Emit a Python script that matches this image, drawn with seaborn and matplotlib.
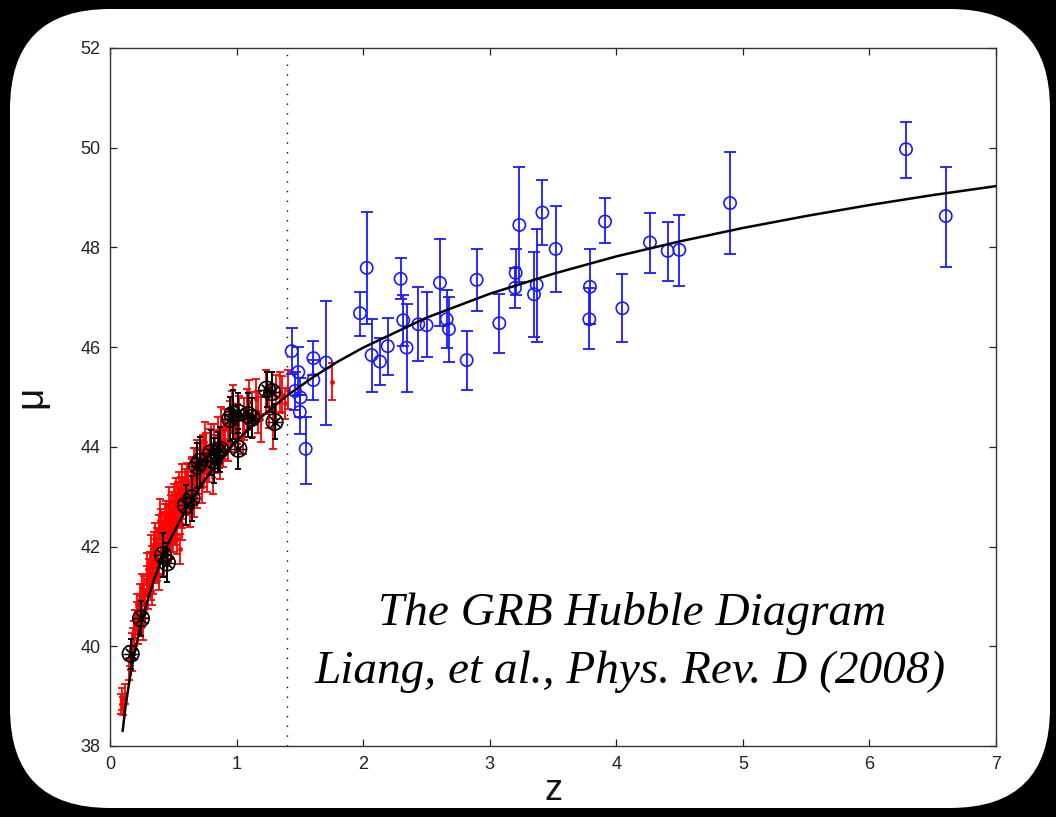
import matplotlib
matplotlib.use("Agg")
import matplotlib.pyplot as plt
import seaborn as sns
from matplotlib.patches import FancyBboxPatch

# ---------------- data ----------------
# model curve
curve_z = [0.10, 0.12, 0.15, 0.175, 0.20, 0.25, 0.30, 0.35, 0.40, 0.45, 0.50, 0.60, 0.70,
           0.80, 0.90, 1.00, 1.20, 1.40, 1.60, 1.80, 2.00, 2.50, 3.00, 3.50, 4.00,
           4.50, 5.00, 5.50, 6.00, 6.50, 7.00]
curve_mu = [38.30, 38.74, 39.25, 39.62, 39.95, 40.49, 40.95, 41.36, 41.68, 42.01, 42.26,
            42.75, 43.16, 43.52, 43.83, 44.12, 44.61, 45.03, 45.39, 45.71, 45.99,
            46.59, 47.07, 47.47, 47.82, 48.12, 48.39, 48.63, 48.85, 49.05, 49.23]

# supernovae (red)
sn_z = [0.085, 0.095, 0.105, 0.115, 0.15, 0.16, 0.17, 0.175, 0.19, 0.20, 0.21, 0.22,
        0.23, 0.24, 0.25, 0.26, 0.27, 0.28, 0.29, 0.30, 0.31, 0.32, 0.33, 0.34, 0.345,
        0.35, 0.36, 0.37, 0.38, 0.39, 0.395, 0.40, 0.405, 0.41, 0.42, 0.43, 0.44, 0.44,
        0.45, 0.46, 0.47, 0.48, 0.49, 0.50, 0.51, 0.52, 0.52, 0.53, 0.54, 0.55, 0.55,
        0.56, 0.57, 0.57, 0.58, 0.59, 0.60, 0.61, 0.62, 0.63, 0.64, 0.65, 0.66, 0.67,
        0.68, 0.69, 0.70, 0.72, 0.73, 0.74, 0.75, 0.76, 0.78, 0.80, 0.81, 0.83, 0.85,
        0.87, 0.88, 0.89, 0.91, 0.93, 0.95, 0.97, 0.99, 1.02, 1.05, 1.08, 1.12, 1.15,
        1.19, 1.23, 1.26, 1.29, 1.31, 1.34, 1.36, 1.38, 1.41, 1.75,
        0.18, 0.215, 0.235, 0.255, 0.275, 0.295, 0.315, 0.325, 0.335, 0.355, 0.365,
        0.375, 0.385, 0.415, 0.425, 0.435, 0.455, 0.465, 0.475, 0.485, 0.495, 0.505,
        0.515, 0.535, 0.545, 0.565, 0.585, 0.605, 0.625, 0.645, 0.665, 0.685, 0.71,
        0.735, 0.77, 0.79, 0.82, 0.86, 0.90, 0.94, 0.96, 1.00, 1.06, 1.10, 1.17]
sn_mu = [38.85, 38.95, 38.80, 39.05, 39.55, 39.80, 39.75, 40.05, 40.25, 40.45, 40.80, 40.30,
         40.55, 40.70, 40.95, 40.40, 41.10, 40.75, 41.30, 41.05, 41.45, 41.20, 41.70, 41.35, 42.00,
         41.85, 41.55, 42.05, 41.75, 41.40, 42.65, 42.20, 42.45, 41.95, 42.35, 42.10, 41.90, 42.60,
         42.50, 42.25, 42.60, 42.05, 42.75, 42.40, 42.85, 42.55, 43.05, 42.15, 42.95, 42.70, 41.95,
         43.05, 42.45, 43.30, 42.85, 43.20, 42.95, 43.35, 43.30, 42.70, 43.10, 43.45, 42.90, 43.25,
         43.60, 43.75, 43.40, 43.75, 43.20, 43.55, 44.10, 43.90, 43.65, 44.05, 43.40, 43.85, 44.20,
         43.70, 44.40, 44.00, 44.35, 44.10, 44.50, 44.85, 44.30, 44.60, 44.25, 44.75, 44.65, 44.95,
         44.55, 45.10, 44.80, 44.35, 45.00, 45.10, 45.05, 44.87, 45.15, 45.31,
         40.15, 40.60, 40.95, 41.15, 40.85, 41.55, 41.60, 41.90, 41.10, 42.15, 41.75,
         41.60, 42.30, 42.15, 41.70, 42.50, 42.00, 42.85, 42.35, 42.70, 42.20, 42.90,
         42.35, 42.75, 43.15, 42.70, 43.05, 43.15, 42.95, 43.40, 43.60, 43.10, 43.55,
         43.85, 43.45, 43.95, 44.05, 43.95, 44.15, 44.30, 44.70, 44.45, 44.55, 44.90, 44.70]
sn_err = [0.20, 0.22, 0.18, 0.20, 0.22, 0.20, 0.25, 0.22, 0.25, 0.28, 0.25, 0.25,
          0.30, 0.30, 0.30, 0.28, 0.30, 0.28, 0.32, 0.30, 0.30, 0.28, 0.32, 0.30, 0.30,
          0.30, 0.28, 0.32, 0.30, 0.28, 0.30, 0.32, 0.30, 0.30, 0.35, 0.30, 0.28, 0.32,
          0.35, 0.30, 0.32, 0.30, 0.35, 0.30, 0.35, 0.32, 0.33, 0.30, 0.35, 0.30, 0.30,
          0.35, 0.32, 0.35, 0.30, 0.35, 0.32, 0.33, 0.35, 0.30, 0.32, 0.35, 0.30, 0.35,
          0.38, 0.38, 0.35, 0.38, 0.32, 0.35, 0.40, 0.38, 0.35, 0.40, 0.35, 0.38, 0.40,
          0.35, 0.40, 0.40, 0.40, 0.38, 0.42, 0.40, 0.40, 0.42, 0.40, 0.42, 0.45, 0.42,
          0.45, 0.45, 0.42, 0.40, 0.45, 0.40, 0.38, 0.32, 0.40, 0.37,
          0.22, 0.28, 0.30, 0.30, 0.28, 0.32, 0.30, 0.33, 0.28, 0.32, 0.30,
          0.30, 0.33, 0.32, 0.30, 0.35, 0.30, 0.35, 0.32, 0.33, 0.30, 0.35,
          0.32, 0.33, 0.35, 0.32, 0.33, 0.35, 0.32, 0.35, 0.38, 0.33, 0.38,
          0.38, 0.35, 0.40, 0.40, 0.38, 0.40, 0.40, 0.42, 0.40, 0.42, 0.45, 0.42]

# low-z GRBs (black, calibrated)
low_z = [0.163, 0.245, 0.42, 0.45, 0.60, 0.645, 0.69, 0.71, 0.80, 0.82, 0.85, 0.87,
         0.95, 0.97, 1.014, 1.014, 1.09, 1.12, 1.24, 1.28, 1.30]
low_mu = [39.85, 40.56, 41.83, 41.68, 42.83, 42.97, 43.62, 43.70, 43.88, 43.72, 43.90, 43.94,
          44.56, 44.65, 44.68, 43.96, 44.64, 44.58, 45.15, 45.10, 44.50]
low_err = [0.30, 0.35, 0.45, 0.40, 0.40, 0.45, 0.45, 0.50, 0.45, 0.45, 0.40, 0.45,
           0.45, 0.50, 0.40, 0.40, 0.45, 0.40, 0.35, 0.40, 0.35]

# high-z GRBs (blue)
grb_z = [1.435, 1.488, 1.462, 1.505, 1.500, 1.546, 1.607, 1.607, 1.707, 1.975, 2.028, 2.067,
         2.133, 2.194, 2.296, 2.317, 2.343, 2.436, 2.501, 2.607, 2.660, 2.678, 2.818, 2.897,
         3.076, 3.205, 3.200, 3.234, 3.350, 3.371, 3.416, 3.521, 3.792, 3.787, 3.911, 4.048,
         4.266, 4.406, 4.498, 4.899, 6.289, 6.603]
grb_mu = [45.92, 45.50, 45.12, 44.99, 44.70, 43.96, 45.78, 45.34, 45.69, 46.68, 47.59, 45.84,
          45.71, 46.02, 47.37, 46.54, 45.99, 46.46, 46.44, 47.29, 46.56, 46.36, 45.74, 47.35,
          46.48, 47.49, 47.19, 48.45, 47.06, 47.25, 48.70, 47.97, 47.21, 46.56, 48.52, 46.78,
          48.10, 47.93, 47.95, 48.89, 49.97, 48.63]
grb_err_lo = [0.46, 0.45, 0.38, 0.40, 0.45, 0.70, 0.34, 0.40, 1.25, 0.45, 1.13, 0.73,
              0.47, 0.58, 0.41, 0.51, 0.88, 0.74, 0.63, 0.87, 0.58, 0.66, 0.59, 0.62,
              0.60, 0.44, 0.41, 1.15, 0.85, 1.15, 0.65, 0.86, 0.75, 0.60, 0.44, 0.68,
              0.62, 0.60, 0.72, 1.03, 0.58, 1.02]
grb_err_hi = [0.46, 0.50, 0.38, 0.40, 0.35, 0.64, 0.34, 0.40, 1.23, 0.43, 1.13, 0.72,
              0.47, 0.57, 0.42, 0.51, 0.88, 0.74, 0.67, 0.87, 0.59, 0.65, 0.58, 0.61,
              0.59, 0.47, 0.39, 1.16, 0.85, 1.11, 0.65, 0.87, 0.75, 0.62, 0.47, 0.68,
              0.60, 0.59, 0.71, 1.02, 0.55, 0.98]

x_ticks = [0, 1, 2, 3, 4, 5, 6, 7]
y_ticks = [38, 40, 42, 44, 46, 48, 50, 52]
title_lines = ["The GRB Hubble Diagram", "Liang, et al., Phys. Rev. D (2008)"]
z_split = 1.4

# ---------------- figure ----------------
sns.set_theme(style="ticks")
plt.rcParams['font.family'] = ['Liberation Sans', 'DejaVu Sans']

fig = plt.figure(figsize=(10.56, 8.17), dpi=100, facecolor='black')

bg = fig.add_axes([0, 0, 1, 1])
bg.set_xlim(0, 1056)
bg.set_ylim(817, 0)
bg.axis('off')
bg.add_patch(FancyBboxPatch((10, 9), 1040, 799,
                            boxstyle="round,pad=0,rounding_size=100",
                            fc='white', ec='none'))

ax = fig.add_axes([110 / 1056, 71 / 817, 886 / 1056, 698 / 817])
ax.set_facecolor('white')

# red SNe
ax.errorbar(sn_z, sn_mu, yerr=sn_err, fmt='none', ecolor='red',
            elinewidth=1.3, capsize=2.8, capthick=1.3, zorder=2)
sns.scatterplot(x=sn_z, y=sn_mu, ax=ax, color='red', s=12, marker='o',
                edgecolor='red', linewidth=0, zorder=3)

# black low-z GRBs
ax.errorbar(low_z, low_mu, yerr=low_err, fmt='none', ecolor='black',
            elinewidth=1.4, capsize=2.2, capthick=1.4, zorder=4)
sns.scatterplot(x=low_z, y=low_mu, ax=ax, marker='o', s=140,
                facecolors='none', edgecolor='black', linewidth=1.2, zorder=5)
sns.scatterplot(x=low_z, y=low_mu, ax=ax, marker=(8, 2, 0), s=120,
                color='black', edgecolor='black', linewidth=0.9, zorder=5)

# blue high-z GRBs
ax.errorbar(grb_z, grb_mu, yerr=[grb_err_lo, grb_err_hi], fmt='none', ecolor='#1a1aff',
            elinewidth=1.3, capsize=4.5, capthick=1.3, zorder=6)
sns.scatterplot(x=grb_z, y=grb_mu, ax=ax, marker='o', s=78,
                facecolors='none', edgecolor='#1a1aff', linewidth=1.2, zorder=7)

# model curve
sns.lineplot(x=curve_z, y=curve_mu, ax=ax, color='black', linewidth=1.8,
             estimator=None, sort=False, zorder=8)

# dotted separation line
ax.axvline(z_split, color='black', linestyle=(0, (1, 6)), linewidth=1.0, zorder=1)

ax.set_xlim(0, 7)
ax.set_ylim(38, 52)
ax.set_xticks(x_ticks)
ax.set_yticks(y_ticks)
ax.set_xticklabels([str(t) for t in x_ticks])
ax.set_yticklabels([str(t) for t in y_ticks])
ax.tick_params(direction='in', top=True, right=True, length=5, width=0.9,
               labelsize=13, colors='#222222', pad=7)
for s in ax.spines.values():
    s.set_visible(True)
    s.set_linewidth(1.0)
    s.set_color('#333333')

ax.set_xlabel('z', fontsize=26, labelpad=0, color='#111111')
ax.set_ylabel('\u03bc', fontsize=28, labelpad=22, color='#111111', rotation=90)

ax.text(0.589, 0.19, title_lines[0], transform=ax.transAxes, ha='center', va='center',
        fontsize=34, style='italic', family='Liberation Serif', color='black', zorder=10)
ax.text(0.587, 0.106, title_lines[1], transform=ax.transAxes, ha='center', va='center',
        fontsize=34, style='italic', family='Liberation Serif', color='black', zorder=10)

fig.savefig('out.png', dpi=100, facecolor='black')
